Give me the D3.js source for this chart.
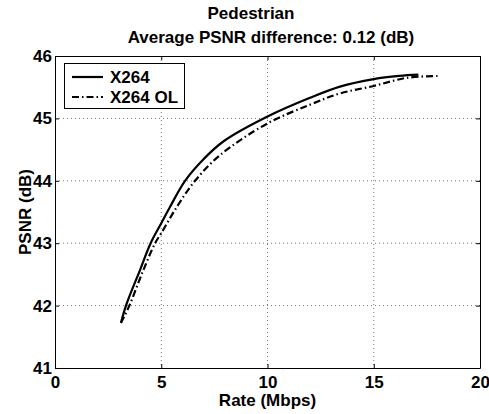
<!DOCTYPE html>
<html>
<head>
<meta charset="utf-8">
<script src="https://cdn.jsdelivr.net/npm/d3@7"></script>
<style>
	body { margin: 0; background: #fff; }
	text { font-family: 'Liberation Sans', Arial, sans-serif; font-weight: bold; font-size: 17px; fill: #000; }
</style>
</head>
<body>
<script>

// values
var x264Rate = [3.11, 3.34, 4.0, 4.5, 5.0, 5.41, 6.12, 7.0, 7.92, 10.0, 12.0, 13.41, 15.0, 16.2, 17.1];
var x264Psnr = [41.73, 42.0, 42.57, 43.0, 43.32, 43.58, 44.0, 44.35, 44.63, 45.03, 45.33, 45.51, 45.63, 45.68, 45.70];

var olRate = [3.1, 3.5, 4.1, 4.71, 5.0, 5.73, 6.59, 7.76, 10.0, 12.0, 13.41, 15.0, 16.55, 18.04];
var olPsnr = [41.72, 42.0, 42.52, 43.0, 43.16, 43.58, 44.0, 44.41, 44.92, 45.22, 45.40, 45.52, 45.65, 45.68];

var xTicks = [0, 5, 10, 15, 20];
var yTicks = [41, 42, 43, 44, 45, 46];
var seriesNames = ['X264', 'X264 OL'];

var plot = {
	'left': 55,
	'right': 480,
	'top': 56,
	'bottom': 368
};

var x = d3.scaleLinear().domain([0, 20]).range([plot.left, plot.right]);
var y = d3.scaleLinear().domain([41, 46]).range([plot.bottom, plot.top]);

var svg = d3.select('body').append('svg')
	.attr('width', 489)
	.attr('height', 414);

// dotted grid
var grid = svg.append('g');
xTicks.slice(1, -1).forEach(function(t) {
	grid.append('line')
		.attr('x1', x(t)).attr('x2', x(t))
		.attr('y1', plot.top).attr('y2', plot.bottom)
		.attr('stroke', '#777')
		.attr('stroke-dasharray', '1,3');
});
yTicks.slice(1, -1).forEach(function(t) {
	grid.append('line')
		.attr('x1', plot.left).attr('x2', plot.right)
		.attr('y1', y(t)).attr('y2', y(t))
		.attr('stroke', '#777')
		.attr('stroke-dasharray', '1,3');
});

// axes, ticks pointing inwards
var fmt = d3.format('d');
svg.append('g')
	.attr('transform', 'translate(0,' + plot.bottom + ')')
	.call(d3.axisBottom(x).tickValues(xTicks).tickFormat(fmt).tickSizeInner(-4).tickSizeOuter(0).tickPadding(8));
svg.append('g')
	.attr('transform', 'translate(' + plot.left + ',0)')
	.call(d3.axisLeft(y).tickValues(yTicks).tickFormat(fmt).tickSizeInner(-4).tickSizeOuter(0).tickPadding(3));
svg.append('g')
	.attr('transform', 'translate(0,' + plot.top + ')')
	.call(d3.axisTop(x).tickValues(xTicks).tickSizeInner(-4).tickSizeOuter(0).tickFormat(''));
svg.append('g')
	.attr('transform', 'translate(' + plot.right + ',0)')
	.call(d3.axisRight(y).tickValues(yTicks).tickSizeInner(-4).tickSizeOuter(0).tickFormat(''));

svg.selectAll('.domain, .tick line').attr('stroke', '#000');
svg.selectAll('.tick text')
	.attr('font-family', null)
	.attr('font-size', null)
	.style('font-size', '17px');

// curves
var line = d3.line()
	.x(function(d) { return x(d[0]); })
	.y(function(d) { return y(d[1]); })
	.curve(d3.curveCatmullRom.alpha(0.5));

var x264Data = x264Rate.map(function(r, i) { return [r, x264Psnr[i]]; });
var olData = olRate.map(function(r, i) { return [r, olPsnr[i]]; });

svg.append('path')
	.datum(olData)
	.attr('d', line)
	.attr('fill', 'none')
	.attr('stroke', '#000')
	.attr('stroke-width', 2.2)
	.attr('stroke-dasharray', '7,3,1.5,3');

svg.append('path')
	.datum(x264Data)
	.attr('d', line)
	.attr('fill', 'none')
	.attr('stroke', '#000')
	.attr('stroke-width', 2.2);

// titles
svg.append('text')
	.attr('x', 251)
	.attr('y', 19)
	.attr('text-anchor', 'middle')
	.text('Pedestrian');
svg.append('text')
	.attr('x', 271)
	.attr('y', 43)
	.attr('text-anchor', 'middle')
	.text('Average PSNR difference: 0.12 (dB)');
svg.append('text')
	.attr('x', 267.5)
	.attr('y', 406)
	.attr('text-anchor', 'middle')
	.text('Rate (Mbps)');
svg.append('text')
	.attr('transform', 'translate(31,212) rotate(-90)')
	.attr('text-anchor', 'middle')
	.text('PSNR (dB)');

// legend
var legend = svg.append('g');
legend.append('rect')
	.attr('x', 64.5)
	.attr('y', 63.5)
	.attr('width', 120)
	.attr('height', 45)
	.attr('fill', '#fff')
	.attr('stroke', '#000');

var dashes = [null, '7,3,1.5,3'];
for (var i = 0; i < seriesNames.length; i++) {
	legend.append('line')
		.attr('x1', 72)
		.attr('x2', 103)
		.attr('y1', 77 + i * 20)
		.attr('y2', 77 + i * 20)
		.attr('stroke', '#000')
		.attr('stroke-width', 2.2)
		.attr('stroke-dasharray', dashes[i]);
	legend.append('text')
		.attr('x', 110)
		.attr('y', 83 + i * 20)
		.text(seriesNames[i]);
}

</script>
</body>
</html>
